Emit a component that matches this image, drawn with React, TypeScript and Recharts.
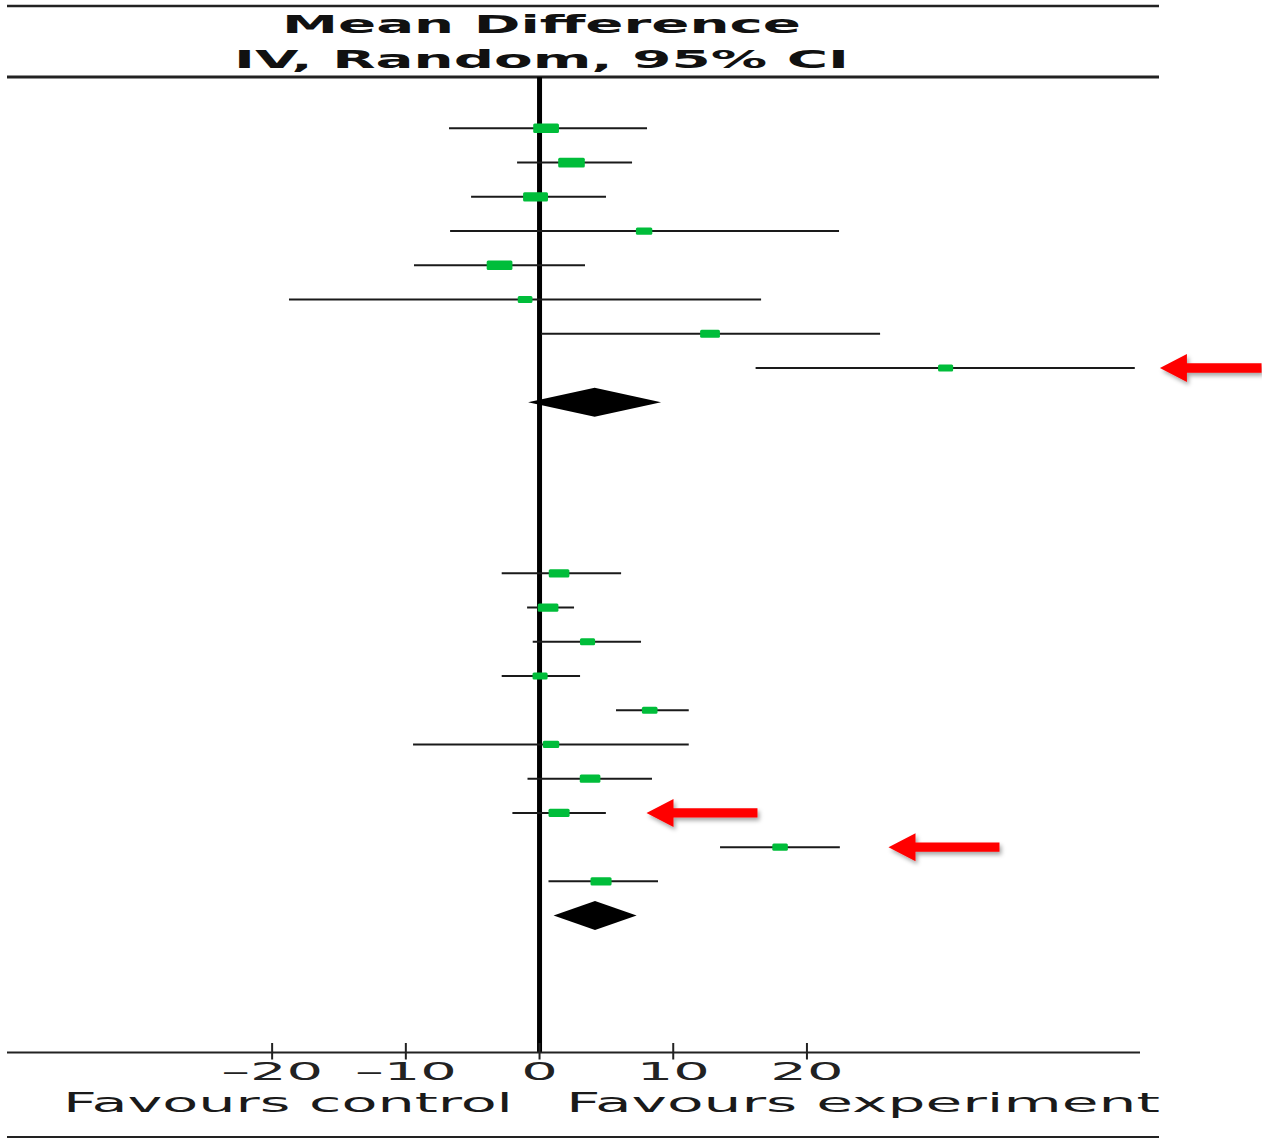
import React from 'react';
import {
  ComposedChart,
  Scatter,
  XAxis,
  YAxis,
  ErrorBar,
  ReferenceLine,
  Customized,
} from 'recharts';

// ---- data ----
const studyRows = [0, 1, 2, 3, 4, 5, 6, 7, 13, 14, 15, 16, 17, 18, 19, 20, 21, 22];
const meanDiff = [0.49, 2.39, -0.3, 7.82, -2.99, -1.08, 12.75, 30.37, 1.46, 0.64, 3.59, 0.04, 8.24, 0.86, 3.78, 1.46, 17.99, 4.6];
const ciLow = [-6.77, -1.68, -5.12, -6.69, -9.39, -18.74, 0.11, 16.16, -2.83, -0.93, -0.51, -2.83, 5.72, -9.46, -0.9, -2.03, 13.5, 0.67];
const ciHigh = [8.04, 6.92, 4.97, 22.4, 3.4, 16.57, 25.47, 44.52, 6.1, 2.58, 7.59, 3.03, 11.16, 11.16, 8.41, 4.96, 22.46, 8.86];
const weights = [15, 16, 14, 4, 15, 2, 8, 2.5, 9, 9, 2.5, 2.5, 3, 4, 9, 9.5, 3, 9.5];

const pooledRows = [8, 23];
const pooledMean = [4.12, 4.15];
const pooledLow = [-0.86, 1.05];
const pooledHigh = [9.09, 7.26];

const xTicks = [-20, -10, 0, 10, 20];
const xDomain = [-39.83, 44.91];
const rowDomain = [-1.5, 27];

const arrowRows = [7, 20, 21];
const arrowTip = [46.4, 8.0, 26.1];
const arrowTail = [54.0, 16.3, 34.4];

const headerLines = ['Mean Difference', 'IV, Random, 95% CI'];
const footerLabels = ['Favours control', 'Favours experiment'];

// ---- tables built from the arrays ----
const studyData = studyRows.map((row, i) => ({
  row,
  md: meanDiff[i],
  weight: weights[i],
  err: [meanDiff[i] - ciLow[i], ciHigh[i] - meanDiff[i]],
}));

const pooledData = pooledRows.map((row, i) => ({
  row,
  md: pooledMean[i],
  lo: pooledLow[i],
  hi: pooledHigh[i],
}));

const arrowData = arrowRows.map((row, i) => ({ row, tip: arrowTip[i], tail: arrowTail[i] }));

// ---- shapes ----
const NoShape = () => <g />;

const WeightedSquare = (props: any) => {
  const { cx, cy, payload } = props;
  if (cx == null || cy == null) return <g />;
  const w = 13 + 0.85 * payload.weight;
  const h = 6.5 + 0.2 * payload.weight;
  return <rect x={cx - w / 2} y={cy - h / 2} width={w} height={h} rx={1.5} fill="#00BD3A" />;
};

const makeDiamond = (mean: number, lo: number, hi: number) => (p: any) => {
  const { x1, x2, y1 } = p;
  const xm = x1 + ((mean - lo) / (hi - lo)) * (x2 - x1);
  const half = 14.5;
  return (
    <polygon
      points={`${x1},${y1} ${xm},${y1 - half} ${x2},${y1} ${xm},${y1 + half}`}
      fill="#000"
    />
  );
};

const arrowShape = (p: any) => {
  const { x1, x2, y1 } = p;
  const head = 27;
  const hh = 14;
  const sh = 4.7;
  const pts = [
    [x1, y1],
    [x1 + head, y1 - hh],
    [x1 + head, y1 - sh],
    [x2, y1 - sh],
    [x2, y1 + sh],
    [x1 + head, y1 + sh],
    [x1 + head, y1 + hh],
  ]
    .map((q) => q.join(','))
    .join(' ');
  return <polygon points={pts} fill="#FF0000" filter="url(#arrowShadow)" />;
};

const AxisTick = (props: any) => {
  const { x, y, payload } = props;
  const v = payload.value;
  const label = v < 0 ? `\u2013${Math.abs(v)}` : `${v}`;
  return (
    <g>
      <line x1={x} x2={x} y1={y - 9.5} y2={y + 7} stroke="#222" strokeWidth={2} />
      <text
        transform={`translate(${x},${y + 27.5}) scale(2.3,1)`}
        textAnchor="middle"
        fontFamily="DejaVu Sans"
        fontSize={25}
        fill="#222"
      >
        {label}
      </text>
    </g>
  );
};

const Decorations = () => (
  <g>
    <defs>
      <filter id="arrowShadow" x="-20%" y="-50%" width="140%" height="220%">
        <feDropShadow dx="2" dy="3" stdDeviation="2" floodColor="#000" floodOpacity="0.35" />
      </filter>
    </defs>
    <line x1={7} x2={1159} y1={6} y2={6} stroke="#222" strokeWidth={2.7} />
    <line x1={7} x2={1159} y1={77} y2={77} stroke="#222" strokeWidth={3} />
    <line x1={7} x2={1159} y1={1137.3} y2={1137.3} stroke="#222" strokeWidth={2.5} />
    <text
      x={282}
      y={33}
      fontFamily="DejaVu Sans"
      fontWeight="bold"
      fontSize={25}
      fill="#111"
      textLength={519}
      lengthAdjust="spacingAndGlyphs"
    >
      {headerLines[0]}
    </text>
    <text
      x={234}
      y={68}
      fontFamily="DejaVu Sans"
      fontWeight="bold"
      fontSize={25}
      fill="#111"
      textLength={615}
      lengthAdjust="spacingAndGlyphs"
    >
      {headerLines[1]}
    </text>
    <text
      x={63}
      y={1112}
      fontFamily="DejaVu Sans"
      fontSize={27}
      fill="#1a1a1a"
      textLength={450}
      lengthAdjust="spacingAndGlyphs"
    >
      {footerLabels[0]}
    </text>
    <text
      x={566}
      y={1112}
      fontFamily="DejaVu Sans"
      fontSize={27}
      fill="#1a1a1a"
      textLength={594}
      lengthAdjust="spacingAndGlyphs"
    >
      {footerLabels[1]}
    </text>
  </g>
);

export default function App() {
  return (
    <div style={{ position: 'absolute', left: 0, top: 0, width: 1262, height: 1138, background: '#fff' }}>
      <ComposedChart
        width={1262}
        height={1138}
        margin={{ top: 77, right: 122, left: 7, bottom: 25.5 }}
      >
        <Customized component={<Decorations />} />
        <XAxis
          type="number"
          dataKey="md"
          domain={xDomain}
          allowDataOverflow
          ticks={xTicks}
          interval={0}
          height={60}
          tickSize={0}
          tickMargin={0}
          tickLine={false}
          axisLine={{ stroke: '#222', strokeWidth: 2 }}
          tick={<AxisTick />}
        />
        <YAxis type="number" dataKey="row" domain={rowDomain} reversed hide allowDataOverflow />
        <ReferenceLine x={0} stroke="#000" strokeWidth={5} />
        {pooledData.map((d) => (
          <ReferenceLine
            key={`pool-${d.row}`}
            segment={[
              { x: d.lo, y: d.row },
              { x: d.hi, y: d.row },
            ]}
            ifOverflow="visible"
            shape={makeDiamond(d.md, d.lo, d.hi)}
          />
        ))}
        {arrowData.map((d) => (
          <ReferenceLine
            key={`arrow-${d.row}`}
            segment={[
              { x: d.tip, y: d.row },
              { x: d.tail, y: d.row },
            ]}
            ifOverflow="visible"
            shape={arrowShape}
          />
        ))}
        <Scatter data={studyData} shape={<NoShape />} isAnimationActive={false}>
          <ErrorBar dataKey="err" direction="x" width={0} stroke="#1a1a1a" strokeWidth={2} isAnimationActive={false} />
        </Scatter>
        <Scatter data={studyData} shape={<WeightedSquare />} isAnimationActive={false} />
      </ComposedChart>
    </div>
  );
}
